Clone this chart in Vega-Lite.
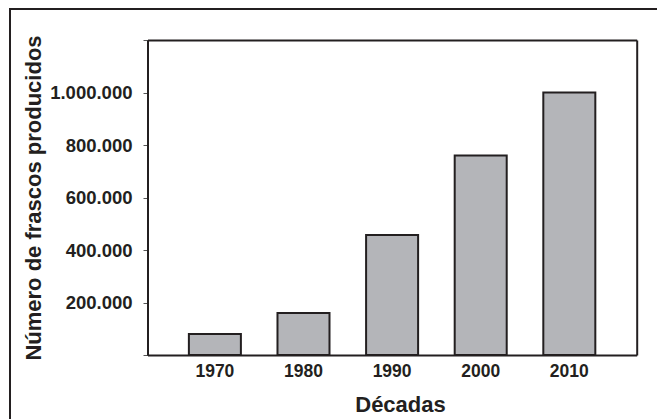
{
  "$schema": "https://vega.github.io/schema/vega-lite/v6.json",
  "width": 653,
  "height": 416,
  "autosize": {"type": "none"},
  "padding": {"left": 10, "top": 9, "right": -6, "bottom": -6},
  "background": "white",
  "config": {
    "view": {"stroke": "#231f20", "strokeWidth": 2, "fill": "white"},
    "locale": {"number": {"decimal": ",", "thousands": ".", "grouping": [3], "currency": ["", ""]}},
    "font": "Liberation Sans",
    "axis": {
      "labelFont": "Liberation Sans",
      "titleFont": "Liberation Sans",
      "labelFontWeight": "bold",
      "titleFontWeight": "bold",
      "labelColor": "#231f20",
      "titleColor": "#231f20",
      "domainColor": "#231f20",
      "domainWidth": 2,
      "grid": false,
      "labelFontSize": 17,
      "titleFontSize": 22
    }
  },
  "data": {
    "values": [
      {"decada": "1970", "frascos": 80000},
      {"decada": "1980", "frascos": 160000},
      {"decada": "1990", "frascos": 457000},
      {"decada": "2000", "frascos": 760000},
      {"decada": "2010", "frascos": 1000000}
    ]
  },
  "layer": [
    {
      "mark": {"type": "bar", "fill": "#b4b5b9", "stroke": "#231f20", "strokeWidth": 2},
      "encoding": {
        "x": {
          "field": "decada",
          "type": "ordinal",
          "sort": null,
          "scale": {"range": [137.5, 626.7], "paddingInner": 0.413, "paddingOuter": 0.467},
          "axis": {
            "orient": "bottom",
            "offset": -70,
            "title": "Décadas",
            "ticks": false,
            "labelPadding": 7,
            "titlePadding": 15,
            "titleX": 390,
            "labelFontSize": 17.5,
            "labelAngle": 0
          }
        },
        "y": {
          "field": "frascos",
          "type": "quantitative",
          "scale": {"domain": [0, 1200000], "range": [346, 31], "nice": false, "zero": true},
          "axis": {
            "orient": "left",
            "offset": -137.5,
            "title": "Número de frascos producidos",
            "values": [0, 200000, 400000, 600000, 800000, 1000000, 1200000],
            "format": ",d",
            "labelExpr": "datum.value == 0 || datum.value >= 1200000 ? '' : datum.label",
            "labelFontSize": 18.5,
            "tickSize": 4.5,
            "tickColor": "#555555",
            "tickWidth": 1,
            "labelPadding": 11,
            "titlePadding": 4
          }
        }
      }
    },
    {
      "mark": {"type": "point", "opacity": 0},
      "encoding": {
        "x": {
          "field": "decada",
          "type": "ordinal",
          "sort": null,
          "axis": {"orient": "top", "offset": -31, "title": null, "labels": false, "ticks": false}
        },
        "y": {
          "field": "frascos",
          "type": "quantitative",
          "axis": {"orient": "right", "offset": -26.3, "title": null, "labels": false, "ticks": false}
        }
      }
    }
  ],
  "resolve": {"axis": {"x": "independent", "y": "independent"}}
}
